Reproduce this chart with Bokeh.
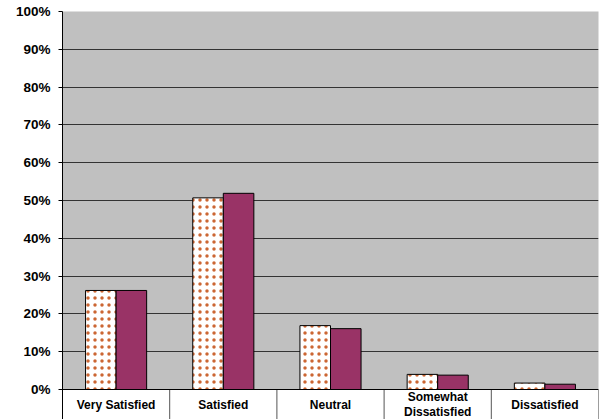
from bokeh.plotting import figure
from bokeh.models import Range1d, FixedTicker, NumeralTickFormatter, ColumnDataSource, Span
from bokeh.core.properties import value
from bokeh.embed import file_html
from bokeh.resources import INLINE

# Satisfaction survey: share of respondents per answer, two survey waves
categories = ["Very Satisfied", "Satisfied", "Neutral", "Somewhat\nDissatisfied", "Dissatisfied"]
series_a = [0.262, 0.507, 0.169, 0.040, 0.017]
series_b = [0.262, 0.519, 0.161, 0.038, 0.014]
y_ticks = [0.0, 0.1, 0.2, 0.3, 0.4, 0.5, 0.6, 0.7, 0.8, 0.9, 1.0]

n = len(categories)
bar_w = 0.285
centers = [i + 0.5 for i in range(n)]
edges = [float(i) for i in range(n + 1)]

# the frame runs down to the page edge; the strip below 0 holds the category table
strip = -30 / 378
label_y = strip * 0.5
p = figure(width=603, height=419, output_backend="svg", toolbar_location=None,
           x_range=Range1d(0, n), y_range=Range1d(strip, 1))
p.min_border_left = 62
p.min_border_right = 5
p.min_border_top = 11
p.min_border_bottom = 0
p.background_fill_color = "#C0C0C0"
p.border_fill_color = "white"
p.outline_line_color = None

# white table strip under the value axis
p.quad(left=0, right=n, bottom=strip, top=0, fill_color="white", line_color=None, level="underlay")

src_a = ColumnDataSource(dict(x=[c - bar_w / 2 for c in centers], top=series_a))
src_b = ColumnDataSource(dict(x=[c + bar_w / 2 for c in centers], top=series_b))

p.vbar(x="x", top="top", bottom=0, width=bar_w, source=src_a,
       fill_color="white", line_color="black", line_width=1,
       hatch_pattern="dot", hatch_color="#CC6633", hatch_scale=7, hatch_weight=1.3)
p.vbar(x="x", top="top", bottom=0, width=bar_w, source=src_b,
       fill_color="#993366", line_color="black", line_width=1)

# dividers between the category cells
p.segment(x0=edges, y0=[strip] * len(edges), x1=edges, y1=[0] * len(edges),
          line_color="#555555", line_width=1)

# category names, centred in their cells
p.text(x=centers, y=[label_y] * n, text=categories,
       text_align="center", text_baseline="middle",
       text_font=value("Liberation Sans"), text_font_style="bold",
       text_font_size="12px", text_color="black", text_line_height=1.05)

# category axis line
p.add_layout(Span(location=0, dimension="width", line_color="black", line_width=1))

# value axis
p.yaxis.ticker = FixedTicker(ticks=y_ticks)
p.yaxis.formatter = NumeralTickFormatter(format="0%")
p.yaxis.major_tick_in = 0
p.yaxis.major_tick_out = 4
p.yaxis.minor_tick_out = 0
p.yaxis.axis_line_color = "black"
p.yaxis.major_tick_line_color = "black"
p.yaxis.major_label_text_font = "Liberation Sans"
p.yaxis.major_label_text_font_style = "bold"
p.yaxis.major_label_text_font_size = "13.5px"
p.yaxis.major_label_text_color = "black"
p.yaxis.major_label_standoff = 8

p.xaxis.visible = False
p.xgrid.visible = False
p.ygrid.ticker = FixedTicker(ticks=y_ticks)
p.ygrid.grid_line_color = "#333333"
p.ygrid.grid_line_width = 1

open("out.html", "w").write(file_html(p, INLINE))
